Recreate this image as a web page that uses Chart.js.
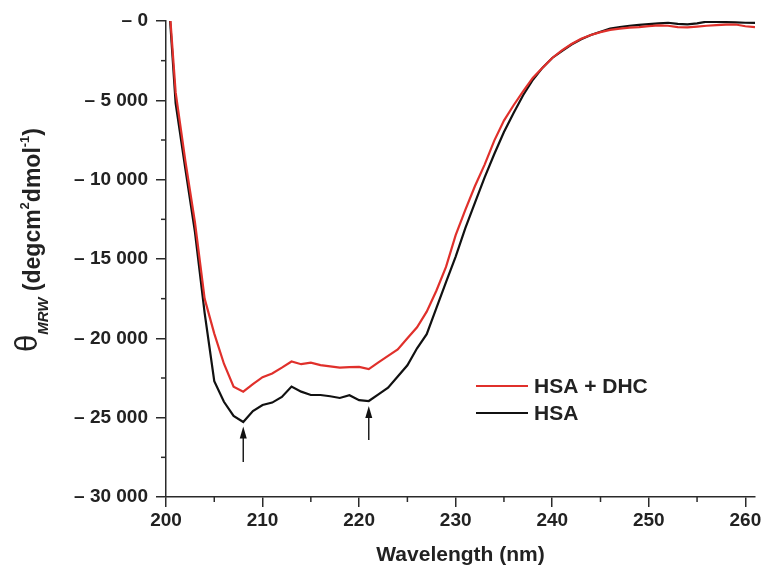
<!DOCTYPE html>
<html>
<head>
<meta charset="utf-8">
<script src="https://cdn.jsdelivr.net/npm/chart.js@4.4.1/dist/chart.umd.min.js"></script>
<style>
    html, body { margin: 0; padding: 0; background: #fff; }
    #wrap { width: 767px; height: 574px; position: relative; }
</style>
</head>
<body>
<div id="wrap"><canvas id="cd" width="767" height="574"></canvas></div>
<script>
// wavelength (nm)
const wavelengths = [
    200, 201, 202, 203, 204, 205, 206, 207, 208, 209,
    210, 211, 212, 213, 214, 215, 216, 217, 218, 219,
    220, 221, 222, 223, 224, 225, 226, 227, 228, 229,
    230, 231, 232, 233, 234, 235, 236, 237, 238, 239,
    240, 241, 242, 243, 244, 245, 246, 247, 248, 249,
    250, 251, 252, 253, 254, 255, 256, 257, 258, 259,
    260, 261
];

// theta MRW, HSA + DHC (red)
const hsaDhc = [
    3900, -4500, -8800, -12700, -17500, -19700, -21600, -23050, -23360, -22890,
    -22450, -22220, -21850, -21460, -21630, -21530, -21690, -21770, -21840, -21820,
    -21800, -21940, -21520, -21110, -20700, -20000, -19300, -18320, -17000, -15500,
    -13500, -11900, -10400, -9050, -7540, -6280, -5310, -4420, -3570, -2950,
    -2330, -1850, -1450, -1120, -880, -700, -560, -480, -420, -380,
    -320, -270, -300, -380, -400, -350, -300, -260, -230, -220,
    -330, -380
];

// theta MRW, HSA (black)
const hsa = [
    3900, -5200, -9300, -13300, -18400, -22700, -24000, -24890, -25270, -24580,
    -24200, -24050, -23690, -23040, -23360, -23570, -23570, -23650, -23760, -23590,
    -23900, -23950, -23530, -23110, -22410, -21700, -20630, -19740, -18100, -16450,
    -14850, -13050, -11450, -9850, -8380, -7000, -5800, -4660, -3700, -2940,
    -2330, -1900, -1480, -1150, -880, -680, -480, -380, -300, -250,
    -200, -150, -110, -180, -210, -150, -40, -50, -70, -90,
    -110, -120
];

const seriesNames = ['HSA + DHC', 'HSA'];
const seriesColors = ['#e0302b', '#111111'];

// arrows marking the 208 and 221 nm minima
const arrowX = [208, 221];
const arrowTail = [-27800, -26400];
const arrowTip = [-25560, -24260];

const xTicks = [200, 210, 220, 230, 240, 250, 260];
const yTicks = [0, -5000, -10000, -15000, -20000, -25000, -30000];

const FONT = '"Liberation Sans", Arial, Helvetica, sans-serif';
const INK = '#222';
const AXIS = '#2a2a2a';

function fmt(v) {
    const s = String(Math.abs(v)).replace(/\B(?=(\d{3})+(?!\d))/g, ' ');
    return '\u2013 ' + s;
}

function toPoints(ys) {
    return wavelengths.map((w, i) => ({ x: w, y: ys[i] }));
}

const extras = {
    id: 'extras',
    afterDraw(chart) {
        const ctx = chart.ctx;
        const xs = chart.scales.x;
        const ys = chart.scales.y;
        const area = chart.chartArea;

        ctx.save();
        ctx.strokeStyle = AXIS;
        ctx.lineWidth = 1.5;

        // minor ticks
        for (let v = -2500; v > -30000; v -= 5000) {
            const py = ys.getPixelForValue(v);
            ctx.beginPath();
            ctx.moveTo(area.left - 5, py);
            ctx.lineTo(area.left, py);
            ctx.stroke();
        }
        for (let w = 205; w < 261; w += 10) {
            const px = xs.getPixelForValue(w);
            ctx.beginPath();
            ctx.moveTo(px, area.bottom);
            ctx.lineTo(px, area.bottom + 5);
            ctx.stroke();
        }

        // arrows
        ctx.strokeStyle = '#111';
        ctx.fillStyle = '#111';
        arrowX.forEach((w, i) => {
            const px = xs.getPixelForValue(w);
            const y0 = ys.getPixelForValue(arrowTail[i]);
            const y1 = ys.getPixelForValue(arrowTip[i]);
            ctx.lineWidth = 1.4;
            ctx.beginPath();
            ctx.moveTo(px, y0);
            ctx.lineTo(px, y1 + 10);
            ctx.stroke();
            ctx.beginPath();
            ctx.moveTo(px, y1);
            ctx.lineTo(px - 3.5, y1 + 12);
            ctx.lineTo(px + 3.5, y1 + 12);
            ctx.closePath();
            ctx.fill();
        });

        // legend
        chart.data.datasets.forEach((ds, i) => {
            const ly = 386 + i * 27;
            ctx.strokeStyle = ds.borderColor;
            ctx.lineWidth = 2.2;
            ctx.beginPath();
            ctx.moveTo(476, ly);
            ctx.lineTo(528, ly);
            ctx.stroke();
            ctx.fillStyle = INK;
            ctx.font = 'bold 21px ' + FONT;
            ctx.textBaseline = 'middle';
            ctx.textAlign = 'left';
            ctx.fillText(ds.label, 534, ly + 1);
        });

        // y axis title: theta_MRW (degcm2dmol-1)
        const parts = [
            { t: '\u03b8', f: '31px ' + FONT, dy: -3 },
            { t: 'MRW', f: 'italic bold 15px ' + FONT, dy: 8 },
            { t: ' (degcm', f: 'bold 23px ' + FONT, dy: 0 },
            { t: '2', f: 'bold 13px ' + FONT, dy: -11 },
            { t: 'dmol', f: 'bold 23px ' + FONT, dy: 0 },
            { t: '-1', f: 'bold 13px ' + FONT, dy: -11 },
            { t: ')', f: 'bold 23px ' + FONT, dy: 0 }
        ];
        let total = 0;
        parts.forEach(p => {
            ctx.font = p.f;
            p.w = ctx.measureText(p.t).width;
            total += p.w;
        });
        ctx.translate(40, 240 + total / 2);
        ctx.rotate(-Math.PI / 2);
        ctx.fillStyle = INK;
        ctx.textBaseline = 'alphabetic';
        let cx = 0;
        parts.forEach(p => {
            ctx.font = p.f;
            ctx.fillText(p.t, cx, p.dy);
            cx += p.w;
        });
        ctx.restore();
    }
};

new Chart(document.getElementById('cd'), {
    type: 'line',
    data: {
        datasets: [
            {
                label: seriesNames[0],
                data: toPoints(hsaDhc),
                borderColor: seriesColors[0],
                borderWidth: 2.2,
                pointRadius: 0,
                tension: 0
            },
            {
                label: seriesNames[1],
                data: toPoints(hsa),
                borderColor: seriesColors[1],
                borderWidth: 2.2,
                pointRadius: 0,
                tension: 0
            }
        ]
    },
    options: {
        responsive: false,
        animation: false,
        devicePixelRatio: 1,
        layout: { padding: { top: 21, right: 12, left: 0, bottom: 0 } },
        plugins: {
            legend: { display: false },
            tooltip: { enabled: false }
        },
        scales: {
            x: {
                type: 'linear',
                min: 200,
                max: 261,
                afterFit: s => { s.height = 77; },
                afterBuildTicks: s => { s.ticks = xTicks.map(v => ({ value: v })); },
                grid: {
                    drawOnChartArea: false,
                    tickLength: 10,
                    color: AXIS,
                    lineWidth: 1.5
                },
                border: { color: AXIS, width: 1.5 },
                ticks: {
                    padding: 2,
                    color: INK,
                    maxRotation: 0,
                    font: { family: FONT, size: 19, weight: 'bold' },
                    callback: v => String(v)
                },
                title: {
                    display: true,
                    text: 'Wavelength (nm)',
                    color: INK,
                    font: { family: FONT, size: 21, weight: 'bold' },
                    padding: { top: 0, bottom: 6 }
                }
            },
            y: {
                type: 'linear',
                min: -30000,
                max: 0,
                afterFit: s => { s.width = 166; },
                afterBuildTicks: s => { s.ticks = yTicks.map(v => ({ value: v })); },
                grid: {
                    drawOnChartArea: false,
                    tickLength: 10,
                    color: AXIS,
                    lineWidth: 1.5
                },
                border: { color: AXIS, width: 1.5 },
                ticks: {
                    padding: 8,
                    color: INK,
                    font: { family: FONT, size: 19, weight: 'bold' },
                    callback: v => fmt(v)
                }
            }
        }
    },
    plugins: [extras]
});
</script>
</body>
</html>
